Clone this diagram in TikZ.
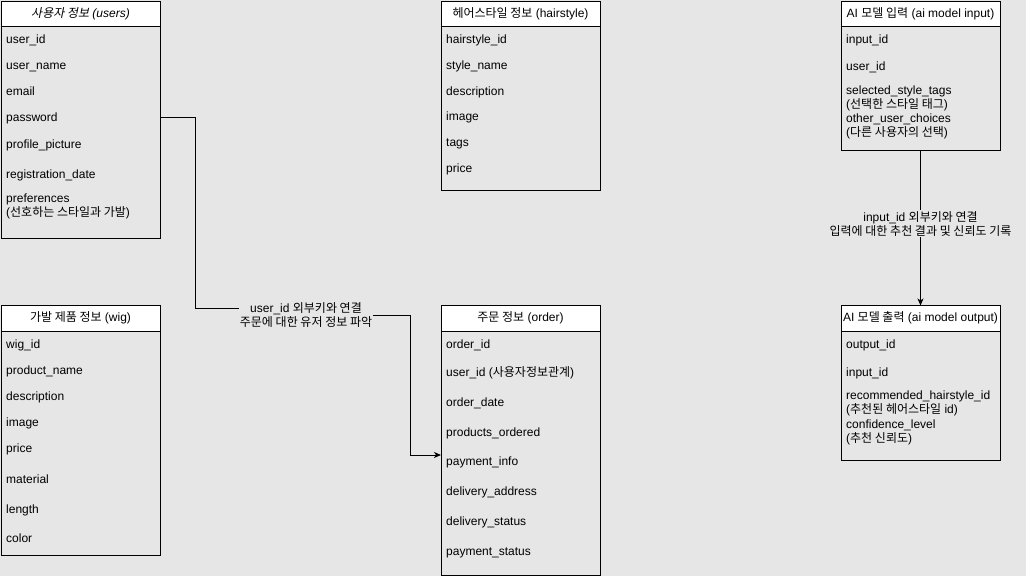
\documentclass[tikz,border=0pt]{standalone}
\usepackage{fontspec}
\setmainfont{Liberation Sans}
\newfontfamily\kr{Noto Sans CJK KR}
\newfontfamily\krit[FakeSlant=0.2]{Noto Sans CJK KR}
\usetikzlibrary{arrows.meta}
\definecolor{bg}{HTML}{E6E6E6}
\tikzset{
  tbox/.style={draw=black, line width=1pt, fill=bg, anchor=north west, inner sep=0pt, outer sep=0pt, minimum width=159pt},
  thead/.style={draw=black, line width=1pt, fill=white, anchor=north west, inner sep=0pt, outer sep=0pt, minimum width=159pt, minimum height=25.5pt},
  ttitle/.style={anchor=base, inner sep=0pt, font=\fontsize{12}{14}\selectfont},
  field/.style={anchor=base west, inner sep=0pt, align=left, font=\fontsize{12}{14}\selectfont},
  link/.style={draw=black, line width=1pt},
  tip/.style={-{Stealth[length=7pt,width=6pt,inset=2pt]}},
  elabel/.style={fill=bg, inner sep=1pt, align=center, font=\fontsize{12}{14}\selectfont}
}
\begin{document}
\begin{tikzpicture}[x=1pt,y=-1pt]
\useasboundingbox (0,0) rectangle (1026,576);
\fill[bg] (0,0) rectangle (1026,576);

% users
\node[tbox, minimum height=237pt] (users) at (1,1) {};
\node[thead] (users-h) at (1,1) {};
\node[ttitle] (users-t) at (80.5,17.5) {\itshape{\krit 사용자 정보} (users)};
\node[field] (u1) at (6,43.5) {user\_id};
\node[field] (u2) at (6,69.5) {user\_name};
\node[field] (u3) at (6,95.5) {email};
\node[field] (u4) at (6,121.5) {password};
\node[field] (u5) at (6,148.5) {profile\_picture};
\node[field] (u6) at (6,178.5) {registration\_date};
\node[field] (u7) at (6,216) {preferences\\({\kr 선호하는 스타일과 가발})};

% hairstyle
\node[tbox, minimum height=189pt] (hair) at (441,1) {};
\node[thead] (hair-h) at (441,1) {};
\node[ttitle] (hair-t) at (520.5,17.5) {{\kr 헤어스타일 정보} (hairstyle)};
\node[field] (h1) at (446,43.3) {hairstyle\_id};
\node[field] (h2) at (446,69.3) {style\_name};
\node[field] (h3) at (446,95) {description};
\node[field] (h4) at (446,120.7) {image};
\node[field] (h5) at (446,146.7) {tags};
\node[field] (h6) at (446,172.7) {price};

% ai model input
\node[tbox, minimum height=149pt] (aiin) at (841,1) {};
\node[thead] (aiin-h) at (841,1) {};
\node[ttitle] (aiin-t) at (920.5,17.5) {AI {\kr 모델 입력} (ai model input)};
\node[field] (i1) at (846,43.3) {input\_id};
\node[field] (i2) at (846,70) {user\_id};
\node[field] (i3) at (846,108) {selected\_style\_tags\\({\kr 선택한 스타일 태그})};
\node[field] (i4) at (846,136) {other\_user\_choices\\({\kr 다른 사용자의 선택})};

% wig
\node[tbox, minimum height=249.5pt] (wig) at (1,305.5) {};
\node[thead] (wig-h) at (1,305.5) {};
\node[ttitle] (wig-t) at (80.5,321.7) {{\kr 가발 제품 정보} (wig)};
\node[field] (w1) at (6,348.3) {wig\_id};
\node[field] (w2) at (6,374) {product\_name};
\node[field] (w3) at (6,400) {description};
\node[field] (w4) at (6,426) {image};
\node[field] (w5) at (6,452.7) {price};
\node[field] (w6) at (6,483.3) {material};
\node[field] (w7) at (6,513.3) {length};
\node[field] (w8) at (6,542.7) {color};

% order
\node[tbox, minimum height=269.5pt] (order) at (441,305.5) {};
\node[thead] (order-h) at (441,305.5) {};
\node[ttitle] (order-t) at (520.5,321.7) {{\kr 주문 정보} (order)};
\node[field] (o1) at (446,348.3) {order\_id};
\node[field] (o2) at (446,376) {user\_id ({\kr 사용자정보관계})};
\node[field] (o3) at (446,406) {order\_date};
\node[field] (o4) at (446,436) {products\_ordered};
\node[field] (o5) at (446,465.7) {payment\_info};
\node[field] (o6) at (446,495.7) {delivery\_address};
\node[field] (o7) at (446,525.7) {delivery\_status};
\node[field] (o8) at (446,555) {payment\_status};

% ai model output
\node[tbox, minimum height=155pt] (aiout) at (841,305.5) {};
\node[thead] (aiout-h) at (841,305.5) {};
\node[ttitle] (aiout-t) at (920.5,321.7) {AI {\kr 모델 출력} (ai model output)};
\node[field] (p1) at (846,348.3) {output\_id};
\node[field] (p2) at (846,376) {input\_id};
\node[field] (p3) at (846,413) {recommended\_hairstyle\_id\\({\kr 추천된 헤어스타일} id)};
\node[field] (p4) at (846,442) {confidence\_level\\({\kr 추천 신뢰도})};

% connector users -> order
\node[elabel, fill=none] (l1) at (306,315) {user\_id {\kr 외부키와 연결}\\{\kr 주문에 대한 유저 정보 파악}};
\draw[link] (users.east |- 0,117) -- (195,117) -- (195,308) -- (l1.west |- 0,308);
\draw[link,tip] (l1.east |- 0,315) -- (410,315) -- (410,455) -- (order.west |- 0,455);

% connector ai input -> ai output
\draw[link,tip] (aiin.south) -- node[elabel, pos=0.475] (l2) {input\_id {\kr 외부키와 연결}\\{\kr 입력에 대한 추천 결과 및 신뢰도 기록}} (aiout.north);
\end{tikzpicture}
\end{document}
